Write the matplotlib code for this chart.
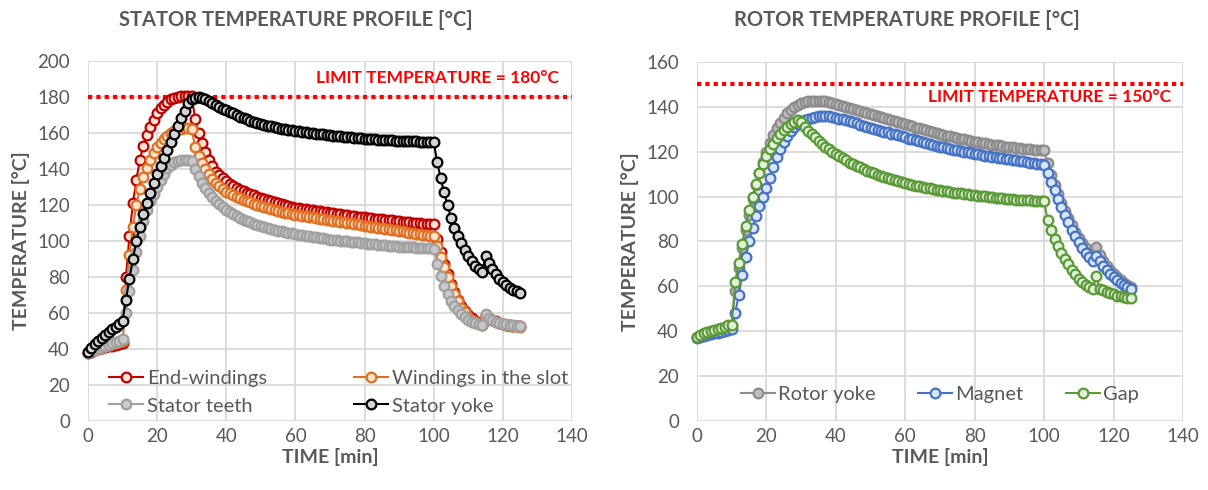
import numpy as np
import matplotlib.pyplot as plt

plt.rcParams['font.family'] = ['Lato', 'DejaVu Sans']

# sampling instants of the thermal simulation (one point per minute)
minutes = np.arange(0, 126)

# ---------------- stator temperatures [°C] ----------------
end_windings = [
    38.0, 38.6, 39.2, 39.8, 40.4, 40.9, 41.4, 41.9, 42.4, 42.9, 43.4,
    80, 103, 121, 134, 145, 153, 159, 163.5, 167.5, 171,
    173.8, 175.8, 177.5, 178.8, 179.6, 180.2, 180.5, 180.7, 180.7, 180.3,
    168, 160, 154.5, 149.5, 145, 141.5, 138.5, 136.5, 134.8, 133.2,
    131.9, 130.7, 129.6, 128.6, 127.6, 126.8, 126.0, 125.3, 124.6, 124.0,
    123.4, 122.8, 122.2, 121.6, 121.1, 120.6, 120.1, 119.6, 119.1, 118.6,
    118.3, 118.0, 117.7, 117.4, 117.1, 116.8, 116.5, 116.2, 115.9, 115.6,
    115.4, 115.1, 114.9, 114.6, 114.4, 114.1, 113.9, 113.6, 113.4, 113.2,
    113.0, 112.7, 112.5, 112.3, 112.1, 111.8, 111.6, 111.4, 111.2, 111.0,
    110.8, 110.6, 110.4, 110.2, 110.0, 109.9, 109.7, 109.6, 109.4, 109.3,
    101, 94, 87.5, 81.5, 76, 71.5, 67.5, 64, 61, 58.8,
    57, 55.5, 54.3, 53.5, 59, 57.5, 56.3, 55.3, 54.6, 54,
    53.6, 53.2, 53, 52.8, 52.6,
]

windings_slot = [
    38.0, 38.7, 39.4, 40.1, 40.8, 41.5, 42.1, 42.8, 43.4, 44.0, 44.6,
    73, 92, 108, 120, 129, 135.5, 140.5, 145, 149, 152,
    154.5, 156.5, 158.5, 160, 161, 162, 162.5, 162.8, 162.8, 162.5,
    152, 147, 143.5, 140, 137, 134.5, 132.3, 130.3, 128.8, 127.5,
    126.5, 125.5, 124.6, 123.8, 123.0, 122.2, 121.5, 120.8, 120.1, 119.5,
    118.9, 118.3, 117.7, 117.2, 116.7, 116.2, 115.8, 115.4, 115.0, 114.6,
    114.3, 114.0, 113.7, 113.4, 113.1, 112.8, 112.5, 112.2, 111.9, 111.6,
    111.3, 111.0, 110.7, 110.4, 110.1, 109.8, 109.5, 109.2, 108.9, 108.6,
    108.3, 108.0, 107.7, 107.4, 107.1, 106.8, 106.5, 106.2, 105.9, 105.6,
    105.3, 105.0, 104.7, 104.4, 104.1, 103.8, 103.5, 103.2, 103.0, 102.8,
    97, 91, 85.5, 80, 75, 70.5, 66.5, 63, 60.3, 58,
    56.2, 54.8, 53.8, 53.2, 58.5, 57, 56, 55, 54.3, 53.8,
    53.4, 53, 52.8, 52.6, 52.5,
]

stator_teeth = [
    38.0, 38.8, 39.6, 40.4, 41.1, 41.8, 42.5, 43.2, 43.9, 44.6, 45.3,
    60, 72, 84, 94, 103, 111, 117, 122, 126, 130,
    134, 137.5, 140.5, 142.5, 143.8, 144.5, 145, 145.2, 145, 144.5,
    140, 136, 132.5, 129.5, 126.8, 124.3, 122.2, 120.4, 118.8, 117.4,
    116.1, 114.9, 113.8, 112.8, 111.9, 111.1, 110.3, 109.6, 108.9, 108.3,
    107.7, 107.2, 106.7, 106.2, 105.8, 105.4, 105.0, 104.6, 104.2, 103.8,
    103.5, 103.2, 102.9, 102.6, 102.3, 102.0, 101.7, 101.4, 101.1, 100.8,
    100.6, 100.4, 100.2, 100.0, 99.8, 99.6, 99.4, 99.2, 99.0, 98.8,
    98.6, 98.4, 98.2, 98.0, 97.8, 97.6, 97.5, 97.3, 97.1, 96.9,
    96.8, 96.7, 96.5, 96.4, 96.3, 96.2, 96.1, 96.0, 95.9, 95.8,
    87, 80.5, 75, 70.5, 66.7, 63.8, 61.5, 59.5, 57.8, 56.3,
    55.2, 54.3, 53.7, 53.2, 59.3, 57, 56, 55.2, 54.6, 54.1,
    53.7, 53.4, 53.1, 52.9, 52.8,
]

stator_yoke = [
    38.5, 40.8, 42.8, 44.6, 46.3, 47.9, 49.5, 51.0, 52.5, 54.0, 55.5,
    67.5, 79, 90, 100, 108, 115, 121, 126.5, 132, 137,
    141.5, 146, 150.5, 155, 159.5, 164, 168.5, 172.5, 176.5, 178.8,
    179.6, 179.8, 179.6, 179.0, 178.0, 176.8, 175.6, 174.5, 173.5, 172.7,
    171.8, 171.0, 170.0, 169.1, 168.3, 167.6, 166.9, 166.2, 165.6, 165.1,
    164.6, 164.1, 163.7, 163.3, 162.9, 162.5, 162.1, 161.8, 161.5, 161.2,
    160.9, 160.6, 160.4, 160.1, 159.9, 159.7, 159.4, 159.2, 159.0, 158.8,
    158.6, 158.4, 158.2, 158.0, 157.8, 157.6, 157.4, 157.2, 157.0, 156.9,
    156.7, 156.6, 156.4, 156.3, 156.2, 156.1, 156.0, 155.9, 155.8, 155.7,
    155.6, 155.5, 155.4, 155.3, 155.3, 155.2, 155.1, 155.1, 155.0, 155.0,
    144, 135, 127, 120, 113, 107.5, 103, 99, 95, 91.7,
    89, 86.3, 84.3, 82.8, 91.5, 88, 84.5, 81.5, 79, 77,
    75.3, 74, 73, 72, 71.3,
]

# ---------------- rotor temperatures [°C] ----------------
rotor_yoke = [
    37.3, 37.9, 38.5, 39.0, 39.5, 40.0, 40.5, 41.0, 41.5, 42.0, 42.4,
    58, 68, 77, 85, 92, 99, 105, 110.5, 115.5, 120,
    124, 127.5, 130.5, 133, 135.2, 137.2, 138.8, 140, 141, 141.7,
    142.2, 142.5, 142.7, 142.8, 142.8, 142.7, 142.5, 142.2, 141.8, 141.4,
    141.0, 140.6, 140.1, 139.7, 139.2, 138.8, 138.3, 137.9, 137.4, 137.0,
    136.5, 136.0, 135.5, 135.0, 134.5, 134.0, 133.5, 133.1, 132.7, 132.3,
    131.8, 131.3, 130.8, 130.4, 130.0, 129.5, 129.1, 128.7, 128.3, 127.9,
    127.5, 127.1, 126.8, 126.5, 126.1, 125.8, 125.5, 125.1, 124.8, 124.5,
    124.2, 124.0, 123.7, 123.5, 123.2, 123.0, 122.8, 122.5, 122.3, 122.1,
    121.9, 121.7, 121.5, 121.4, 121.2, 121.1, 120.9, 120.8, 120.7, 120.6,
    115, 109.5, 105, 101, 97.2, 93.6, 90.3, 87.2, 84.3, 81.7,
    79.2, 77, 75, 73.5, 77.5, 74, 71.5, 69.2, 67.2, 65.5,
    64, 62.7, 61.5, 60.5, 59.7,
]

magnet = [
    37.0, 37.4, 37.8, 38.2, 38.6, 39.0, 39.4, 39.8, 40.2, 40.6, 41.0,
    48, 56, 65, 73, 80, 86, 91.5, 96, 100, 104,
    108.5, 113, 117.5, 121, 124.5, 127, 129.3, 131, 132.2, 133.2,
    134.0, 134.6, 135.1, 135.5, 135.8, 136.0, 136.0, 135.8, 135.5, 135.2,
    134.8, 134.4, 134.0, 133.6, 133.1, 132.6, 132.1, 131.6, 131.1, 130.6,
    130.2, 129.8, 129.4, 129.0, 128.6, 128.1, 127.7, 127.3, 126.8, 126.4,
    125.9, 125.5, 125.1, 124.7, 124.3, 123.8, 123.4, 123.0, 122.6, 122.2,
    121.9, 121.6, 121.2, 120.9, 120.6, 120.3, 120.0, 119.7, 119.4, 119.1,
    118.8, 118.6, 118.3, 118.1, 117.8, 117.6, 117.3, 117.1, 116.9, 116.7,
    116.4, 116.2, 116.0, 115.7, 115.5, 115.2, 115.0, 114.7, 114.4, 114.2,
    110.6, 106.5, 102.8, 98.8, 95.2, 91.6, 88.5, 85.3, 82.3, 79.7,
    77.2, 75, 73, 71.5, 73.5, 71.5, 69.3, 67.2, 65.3, 64,
    62.8, 61.7, 60.6, 59.6, 59,
]

gap = [
    37.5, 38.3, 39.0, 39.6, 40.1, 40.6, 41.1, 41.6, 42.1, 42.6, 43.0,
    62, 70.5, 79, 87, 94, 100, 105.5, 110.5, 114.5, 118,
    121, 123.5, 126, 128, 129.8, 131.2, 132.4, 133.4, 134, 133.3,
    131.0, 129.3, 127.8, 126.4, 125.0, 123.6, 122.3, 121.1, 120.0, 119.0,
    118.0, 117.0, 116.1, 115.2, 114.4, 113.7, 113.0, 112.3, 111.6, 111.0,
    110.4, 109.8, 109.2, 108.7, 108.2, 107.7, 107.2, 106.8, 106.4, 106.0,
    105.6, 105.2, 104.9, 104.6, 104.3, 104.0, 103.7, 103.4, 103.1, 102.8,
    102.5, 102.3, 102.1, 101.8, 101.6, 101.4, 101.2, 101.0, 100.8, 100.6,
    100.4, 100.2, 100.1, 99.9, 99.7, 99.6, 99.4, 99.3, 99.1, 99.0,
    98.9, 98.7, 98.6, 98.5, 98.4, 98.3, 98.2, 98.1, 98.0, 97.9,
    89.5, 85, 81.3, 78, 75, 72.3, 69.8, 67.5, 65.3, 63.3,
    61.8, 60.6, 59.6, 58.9, 64.5, 59, 58.2, 57.5, 56.9, 56.4,
    55.9, 55.5, 55.2, 55, 54.8,
]

stator_labels = ['End-windings', 'Windings in the slot', 'Stator teeth', 'Stator yoke']
rotor_labels = ['Rotor yoke', 'Magnet', 'Gap']
stator_limit = 180
rotor_limit = 150

TXT = '#595959'
GRID = '#d9d9d9'

# (line / marker edge colour, marker face colour)
stator_colors = [('#c00000', '#fbe3d6'), ('#e07020', '#fbe3d0'),
                 ('#a0a0a0', '#c8c8c8'), ('#000000', '#d4d4d4')]
rotor_colors = [('#8c8c8c', '#bfbfbf'), ('#4472c4', '#d9e4f5'),
                ('#5a9a36', '#e2f0d9')]

fig = plt.figure(figsize=(12.08, 4.90), dpi=100)
ax1 = fig.add_axes([0.0728, 0.1408, 0.4007, 0.7347])
ax2 = fig.add_axes([0.577, 0.1408, 0.4023, 0.7327])


def style(ax, ymax):
    ax.set_xlim(0, 140)
    ax.set_ylim(0, ymax)
    ax.set_xticks(range(0, 141, 20))
    ax.set_yticks(range(0, ymax + 1, 20))
    ax.grid(True, color=GRID, lw=1.3)
    ax.set_axisbelow(True)
    for s in ax.spines.values():
        s.set_visible(False)
    ax.tick_params(axis='both', length=0, labelsize=13.5, colors=TXT)
    ax.tick_params(axis='y', pad=13)
    ax.tick_params(axis='x', pad=5)
    ax.set_xlabel('TIME [min]', fontsize=14, fontweight='bold', color=TXT, labelpad=2)
    ax.set_ylabel('TEMPERATURE [°C]', fontsize=14, fontweight='bold', color=TXT, labelpad=5)


def draw(ax, series, labels, colors):
    lines = []
    for y, lab, (ec, fc) in zip(series, labels, colors):
        ln, = ax.plot(minutes, y, color=ec, lw=1.5, marker='o', ms=7.0,
                      mec=ec, mfc=fc, mew=1.6, label=lab, clip_on=False, zorder=3)
        lines.append(ln)
    return lines


style(ax1, 200)
style(ax2, 160)

s_lines = draw(ax1, [end_windings, windings_slot, stator_teeth, stator_yoke],
               stator_labels, stator_colors)
r_lines = draw(ax2, [rotor_yoke, magnet, gap], rotor_labels, rotor_colors)

for ax, lim in ((ax1, stator_limit), (ax2, rotor_limit)):
    ax.axhline(lim, color='#ff0000', lw=3, ls=(0, (1, 1)), dash_capstyle='butt', zorder=2)

ax1.text(101, 190.5, f'LIMIT TEMPERATURE = {stator_limit}°C', color='#ff0000',
         fontsize=12.5, fontweight='bold', ha='center', va='center')
ax2.text(101.5, 144.3, f'LIMIT TEMPERATURE = {rotor_limit}°C', color='#ff0000',
         fontsize=12.5, fontweight='bold', ha='center', va='center')

# legend entries read row by row: order handles for column-major filling
order = [0, 2, 1, 3]
ax1.legend([s_lines[i] for i in order], [stator_labels[i] for i in order],
           ncol=2, loc='lower left', bbox_to_anchor=(0.022, -0.01), frameon=False,
           fontsize=14.5, labelcolor=TXT, columnspacing=4.3, handlelength=1.7,
           handletextpad=0.2, labelspacing=0.5, borderaxespad=0.1)
ax2.legend(r_lines, rotor_labels, ncol=3, loc='lower center',
           bbox_to_anchor=(0.5, 0.022), frameon=False,
           fontsize=14.5, labelcolor=TXT, columnspacing=2.1, handlelength=1.7,
           handletextpad=0.15, borderaxespad=0.1)

fig.text(296 / 1208, 1 - 20 / 490, 'STATOR TEMPERATURE PROFILE [°C]', color=TXT,
         fontsize=14.5, fontweight='bold', ha='center', va='center')
fig.text(907 / 1208, 1 - 20 / 490, 'ROTOR TEMPERATURE PROFILE [°C]', color=TXT,
         fontsize=14.5, fontweight='bold', ha='center', va='center')

fig.savefig('out.png', dpi=100)
